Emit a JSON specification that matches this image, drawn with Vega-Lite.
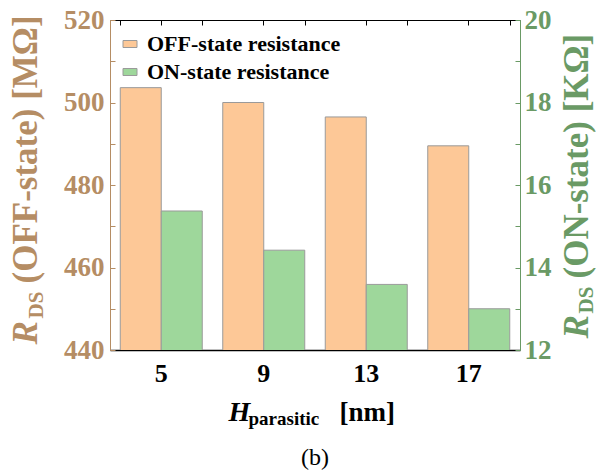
{
  "$schema": "https://vega.github.io/schema/vega-lite/v6.json",
  "width": 410,
  "height": 330,
  "autosize": {"type": "none"},
  "padding": {"left": 110, "top": 20, "right": 76, "bottom": 123},
  "background": "white",
  "config": {"view": {"stroke": null}, "font": "Liberation Serif"},
  "title": {"text": "(b)", "orient": "bottom", "font": "Liberation Serif", "fontSize": 24, "fontWeight": "normal", "color": "black", "offset": 18, "anchor": "middle"},
  "data": {"values": [
    {"h": "5", "series": "OFF-state resistance", "value": 503.6},
    {"h": "9", "series": "OFF-state resistance", "value": 500.0},
    {"h": "13", "series": "OFF-state resistance", "value": 496.5},
    {"h": "17", "series": "OFF-state resistance", "value": 489.5},
    {"h": "5", "series": "ON-state resistance", "value": 15.37},
    {"h": "9", "series": "ON-state resistance", "value": 14.42},
    {"h": "13", "series": "ON-state resistance", "value": 13.59},
    {"h": "17", "series": "ON-state resistance", "value": 13.0}
  ]},
  "encoding": {
    "x": {"field": "h", "type": "nominal", "sort": ["5", "9", "13", "17"],
      "scale": {"paddingInner": 0.2, "paddingOuter": 0.1}},
    "xOffset": {"field": "series", "type": "nominal", "scale": {"domain": ["OFF-state resistance", "ON-state resistance"]}},
    "color": {"field": "series", "type": "nominal",
      "scale": {"domain": ["OFF-state resistance", "ON-state resistance"], "range": ["#FDC897", "#9ED79B"]},
      "legend": {"title": null, "orient": "none", "legendX": 9, "legendY": 13,
        "symbolType": "M-1,-0.5H1V0.5H-1Z", "symbolSize": 196, "symbolStrokeColor": "#9a9a9a", "symbolStrokeWidth": 1, "symbolOpacity": 1,
        "labelFont": "Liberation Serif", "labelFontWeight": "bold", "labelFontSize": 22, "labelColor": "black", "labelOffset": 6, "rowPadding": 6, "labelLimit": 300}}
  },
  "layer": [
    {
      "transform": [{"filter": "datum.series === 'OFF-state resistance'"}],
      "mark": {"type": "bar", "stroke": "#9a9a9a", "strokeWidth": 1, "clip": true},
      "encoding": {
        "x": {"field": "h", "type": "nominal", "sort": ["5", "9", "13", "17"],
          "axis": {"orient": "bottom", "title": "H", "labelAngle": 0, "domainColor": "black", "domainWidth": 1.5, "ticks": false,
            "labelFont": "Liberation Serif", "labelFontWeight": "bold", "labelFontSize": 26, "labelColor": "black", "labelPadding": 10,
            "titleFont": "Liberation Serif", "titleFontWeight": "bold", "titleFontStyle": "italic", "titleFontSize": 28, "titleColor": "black",
            "titleX": 118, "titleY": 70, "titleAlign": "left", "titleBaseline": "alphabetic"}},
        "y": {"field": "value", "type": "quantitative", "scale": {"domain": [440, 520], "zero": false, "nice": false},
          "axis": {"orient": "left", "title": "(OFF-state) [MΩ]", "values": [440, 450, 460, 470, 480, 490, 500, 510, 520],
            "labelExpr": "datum.value % 20 === 0 ? datum.label : ''", "grid": false,
            "domainColor": "#B58D64", "tickColor": "#B58D64", "tickSize": -5, "labelPadding": 11,
            "labelFont": "Liberation Serif", "labelFontWeight": "bold", "labelFontSize": 27, "labelColor": "#B58D64",
            "titleFont": "Liberation Serif", "titleFontWeight": "bold", "titleFontSize": 35, "titleColor": "#B58D64",
            "titleAngle": 270, "titleX": -74, "titleY": 263, "titleAlign": "left", "titleBaseline": "alphabetic"}}
      }
    },
    {
      "transform": [{"filter": "datum.series === 'ON-state resistance'"}],
      "mark": {"type": "bar", "stroke": "#9a9a9a", "strokeWidth": 1, "clip": true},
      "encoding": {
        "x": {"field": "h", "type": "nominal", "sort": ["5", "9", "13", "17"],
          "axis": {"orient": "top", "title": null, "labels": false, "domainColor": "black", "domainWidth": 1, "tickColor": "black", "tickSize": -5}},
        "y": {"field": "value", "type": "quantitative", "scale": {"domain": [12, 20], "zero": false, "nice": false},
          "axis": {"orient": "right", "title": "(ON-state) [KΩ]", "values": [12, 13, 14, 15, 16, 17, 18, 19, 20],
            "labelExpr": "datum.value % 2 === 0 ? datum.label : ''", "grid": false,
            "domainColor": "#6A9A65", "tickColor": "#6A9A65", "tickSize": -5, "labelPadding": 9,
            "labelFont": "Liberation Serif", "labelFontWeight": "bold", "labelFontSize": 27, "labelColor": "#6A9A65",
            "titleFont": "Liberation Serif", "titleFontWeight": "bold", "titleFontSize": 35, "titleColor": "#6A9A65",
            "titleAngle": 270, "titleX": 67, "titleY": 258, "titleAlign": "left", "titleBaseline": "alphabetic"}}
      }
    },
    {
      "transform": [{"filter": "datum.series === 'OFF-state resistance'"}],
      "mark": {"type": "bar", "opacity": 0, "clip": true},
      "encoding": {
        "x": {"field": "h", "type": "nominal", "sort": ["5", "9", "13", "17"],
          "axis": {"orient": "bottom", "title": "parasitic", "labels": false, "ticks": false, "domain": false,
            "titleFont": "Liberation Serif", "titleFontWeight": "bold", "titleFontSize": 19, "titleColor": "black",
            "titleX": 138, "titleY": 74, "titleAlign": "left", "titleBaseline": "alphabetic"}},
        "y": {"field": "value", "type": "quantitative", "scale": {"domain": [440, 520], "zero": false, "nice": false},
          "axis": {"orient": "left", "title": "R", "labels": false, "ticks": false, "domain": false, "grid": false,
            "titleFont": "Liberation Serif", "titleFontWeight": "bold", "titleFontStyle": "italic", "titleFontSize": 35, "titleColor": "#B58D64",
            "titleAngle": 270, "titleX": -74, "titleY": 324, "titleAlign": "left", "titleBaseline": "alphabetic"}}
      }
    },
    {
      "transform": [{"filter": "datum.series === 'OFF-state resistance'"}],
      "mark": {"type": "bar", "opacity": 0, "clip": true},
      "encoding": {
        "x": {"field": "h", "type": "nominal", "sort": ["5", "9", "13", "17"],
          "axis": {"orient": "bottom", "title": "[nm]", "labels": false, "ticks": false, "domain": false,
            "titleFont": "Liberation Serif", "titleFontWeight": "bold", "titleFontSize": 27, "titleColor": "black",
            "titleX": 229, "titleY": 70, "titleAlign": "left", "titleBaseline": "alphabetic"}},
        "y": {"field": "value", "type": "quantitative", "scale": {"domain": [440, 520], "zero": false, "nice": false},
          "axis": {"orient": "left", "title": "DS", "labels": false, "ticks": false, "domain": false, "grid": false,
            "titleFont": "Liberation Serif", "titleFontWeight": "bold", "titleFontSize": 21, "titleColor": "#B58D64",
            "titleAngle": 270, "titleX": -68, "titleY": 298, "titleAlign": "left", "titleBaseline": "alphabetic"}}
      }
    },
    {
      "transform": [{"filter": "datum.series === 'ON-state resistance'"}],
      "mark": {"type": "bar", "opacity": 0, "clip": true},
      "encoding": {
        "x": {"field": "h", "type": "nominal", "sort": ["5", "9", "13", "17"],
          "axis": {"orient": "top", "title": null, "labels": false, "domain": false, "tickBand": "extent", "tickColor": "black", "tickSize": -5}},
        "y": {"field": "value", "type": "quantitative", "scale": {"domain": [12, 20], "zero": false, "nice": false},
          "axis": {"orient": "right", "title": "R", "labels": false, "ticks": false, "domain": false, "grid": false,
            "titleFont": "Liberation Serif", "titleFontWeight": "bold", "titleFontStyle": "italic", "titleFontSize": 35, "titleColor": "#6A9A65",
            "titleAngle": 270, "titleX": 67, "titleY": 318, "titleAlign": "left", "titleBaseline": "alphabetic"}}
      }
    },
    {
      "transform": [{"filter": "datum.series === 'ON-state resistance'"}],
      "mark": {"type": "bar", "opacity": 0, "clip": true},
      "encoding": {
        "x": {"field": "h", "type": "nominal", "sort": ["5", "9", "13", "17"], "axis": null},
        "y": {"field": "value", "type": "quantitative", "scale": {"domain": [12, 20], "zero": false, "nice": false},
          "axis": {"orient": "right", "title": "DS", "labels": false, "ticks": false, "domain": false, "grid": false,
            "titleFont": "Liberation Serif", "titleFontWeight": "bold", "titleFontSize": 21, "titleColor": "#6A9A65",
            "titleAngle": 270, "titleX": 72, "titleY": 293, "titleAlign": "left", "titleBaseline": "alphabetic"}}
      }
    }
  ],
  "resolve": {"scale": {"y": "independent"}, "axis": {"x": "independent", "y": "independent"}}
}
